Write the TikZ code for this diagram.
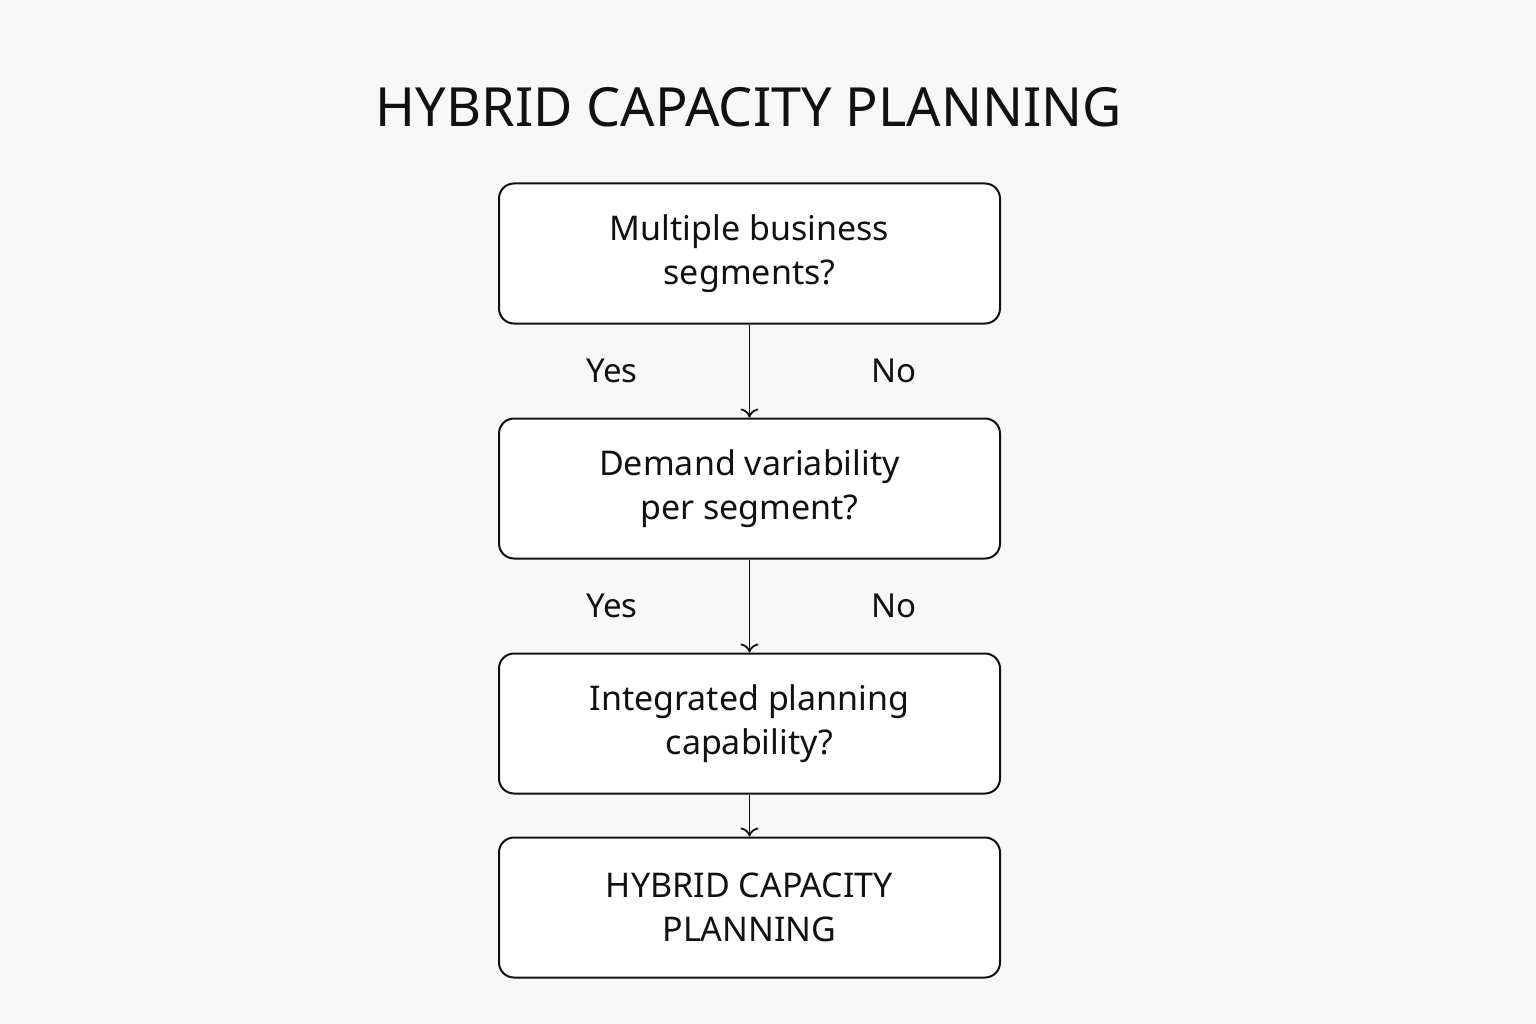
\documentclass[tikz,border=0pt]{standalone}
\usepackage{fontspec}
\setmainfont{Noto Sans}
\usetikzlibrary{positioning,arrows.meta}
\definecolor{paperColour}{HTML}{F8F8F8}
\definecolor{inkColour}{HTML}{111111}
\tikzset{
	stepbox/.style={draw=inkColour,line width=2pt,rounded corners=15pt,fill=white,
		minimum width=501pt,minimum height=140pt,align=center,font=\fontsize{34}{44}\selectfont,text=inkColour},
	flow/.style={draw=inkColour,line width=1.8pt,-{To[length=9pt,width=18pt]}},
	answer/.style={font=\fontsize{33}{40}\selectfont\bfseries,text=inkColour}
}
\begin{document}
\begin{tikzpicture}[x=1pt,y=1pt]
\fill[paperColour] (0,0) rectangle (1536,-1024);
\useasboundingbox (0,0) rectangle (1536,-1024);
\node[font=\fontsize{54}{60}\selectfont\bfseries,text=inkColour] (title) at (749,-107) {HYBRID CAPACITY PLANNING};
\node[stepbox] (segments) at (749.5,-253.5) {Multiple business\\segments?};
\node[stepbox] (demand) at (749.5,-488.5) {Demand variability\\per segment?};
\node[stepbox] (integrated) at (749.5,-723.5) {Integrated planning\\capability?};
\node[stepbox,font=\fontsize{34}{44}\selectfont\bfseries] (hybrid) at (749.5,-907.5) {HYBRID CAPACITY\\PLANNING};
\draw[flow] (segments) -- (demand);
\draw[flow] (demand) -- (integrated);
\draw[flow] (integrated) -- (hybrid);
% answers beside the connectors
\node[answer] (yes 1) at (612,-371) {Yes};
\node[answer] (no 1) at (894,-371) {No};
\node[answer] (yes 2) at (612,-606) {Yes};
\node[answer] (no 2) at (894,-606) {No};
\end{tikzpicture}
\end{document}
